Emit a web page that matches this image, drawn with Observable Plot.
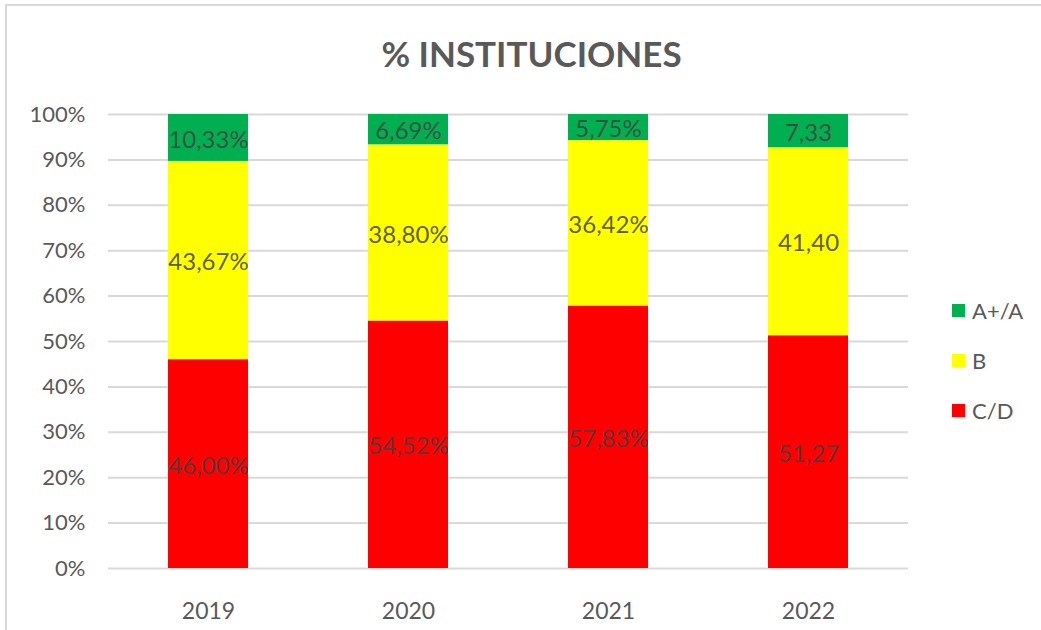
<!DOCTYPE html>
<html>
<head>
<meta charset="utf-8">
<script src="https://cdn.jsdelivr.net/npm/d3@7"></script>
<script src="https://cdn.jsdelivr.net/npm/@observablehq/plot@0.6"></script>
<style>
  body { margin: 0; background: #fff; }
  #wrap { position: relative; width: 1041px; height: 630px; overflow: hidden; font-family: Lato, sans-serif; }
  #frame { position: absolute; left: 5px; top: 4px; right: -10px; bottom: -10px; border-left: 2px solid #d9d9d9; border-top: 2px solid #d9d9d9; }
  #title { position: absolute; left: 0; width: 1063px; top: 32px; text-align: center; font-weight: bold; font-size: 35px; color: #595959; }
  #legend { position: absolute; left: 952px; top: 285px; color: #595959; font-size: 22px; }
  .item { display: flex; align-items: center; height: 50px; }
  .sw { width: 13px; height: 13px; margin-right: 7px; }
  #chart { position: absolute; left: 0; top: 0; }
</style>
</head>
<body>
<div id="wrap">
  <div id="frame"></div>
  <div id="chart"></div>
  <div id="title">% INSTITUCIONES</div>
  <div id="legend"></div>
</div>
<script>
const years = ["2019", "2020", "2021", "2022"];
const categories = ["C/D", "B", "A+/A"];
const colors = ["#ff0000", "#ffff00", "#00b050"];
const valuesCD = [46.00, 54.52, 57.83, 51.27];
const valuesB = [43.67, 38.80, 36.42, 41.40];
const valuesA = [10.33, 6.69, 5.75, 7.33];
const labelSuffix = ["%", "%", "%", ""];
const yTicks = [0, 0.1, 0.2, 0.3, 0.4, 0.5, 0.6, 0.7, 0.8, 0.9, 1];

const series = [valuesCD, valuesB, valuesA];
const data = [];
years.forEach((yr, i) => {
  categories.forEach((c, j) => {
    const v = series[j][i];
    data.push({year: yr, cat: c, value: v / 100,
      label: v.toFixed(2).replace(".", ",") + labelSuffix[i]});
  });
});

const chart = Plot.plot({
  width: 1041,
  height: 630,
  marginLeft: 108,
  marginRight: 133,
  marginTop: 114,
  marginBottom: 62,
  style: {fontFamily: "Lato, sans-serif", background: "transparent"},
  x: {domain: years, paddingInner: 0.6, paddingOuter: 0.3, label: null},
  y: {domain: [0, 1], label: null},
  color: {domain: categories, range: colors},
  marks: [
    Plot.ruleY(yTicks, {stroke: "#d9d9d9", strokeWidth: 2, strokeOpacity: 1}),
    Plot.barY(data, Plot.stackY({x: "year", y: "value", fill: "cat", z: "cat", order: categories})),
    Plot.text(data, Plot.stackY({x: "year", y: "value", z: "cat", order: categories, text: "label",
      fill: "#404040", fillOpacity: 0.85, fontSize: 24, dy: 2})),
    Plot.axisY({ticks: yTicks, tickFormat: d3.format(".0%"), tickSize: 0, tickPadding: 23,
      fontSize: 22, color: "#595959", label: null}),
    Plot.axisX({tickSize: 0, tickPadding: 34, fontSize: 23, color: "#595959", label: null})
  ]
});
document.getElementById("chart").appendChild(chart);

const legend = document.getElementById("legend");
[...categories].reverse().forEach((c) => {
  const i = categories.indexOf(c);
  const item = document.createElement("div");
  item.className = "item";
  const sw = document.createElement("div");
  sw.className = "sw";
  sw.style.background = colors[i];
  const t = document.createElement("span");
  t.textContent = c;
  item.appendChild(sw);
  item.appendChild(t);
  legend.appendChild(item);
});
</script>
</body>
</html>
